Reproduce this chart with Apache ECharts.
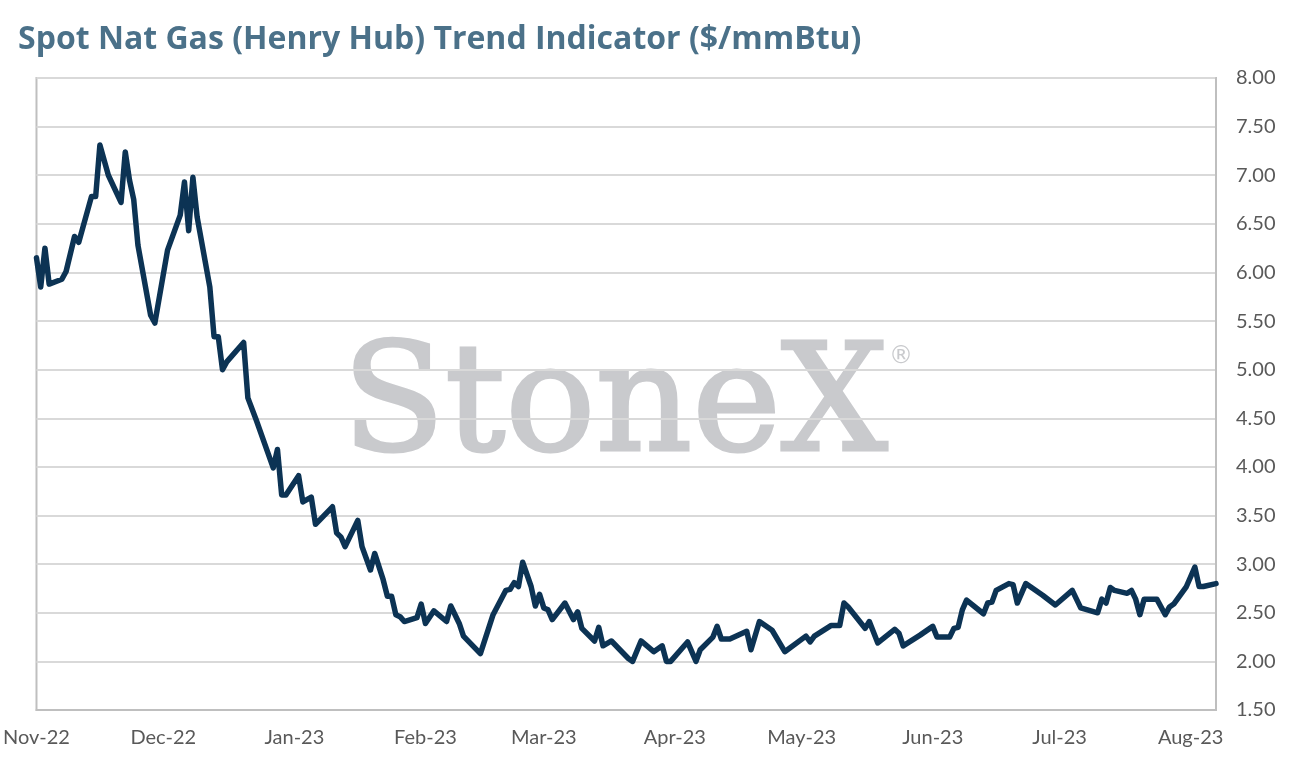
<!DOCTYPE html>
<html>
<head>
<meta charset="utf-8">
<title>Spot Nat Gas (Henry Hub) Trend Indicator</title>
<script src="https://cdn.jsdelivr.net/npm/echarts@6/dist/echarts.min.js"></script>
<style>
  html, body { margin: 0; padding: 0; background: #ffffff; }
  #chart { width: 1294px; height: 771px; }
</style>
</head>
<body>
<div id="chart"></div>
<script>
// values (line vertices)
var dates = [
    "2022-11-01", "2022-11-02", "2022-11-03", "2022-11-04", "2022-11-07", "2022-11-08", "2022-11-10", "2022-11-11",
    "2022-11-14", "2022-11-15", "2022-11-16", "2022-11-18", "2022-11-21", "2022-11-22", "2022-11-23", "2022-11-24",
    "2022-11-25", "2022-11-28", "2022-11-29", "2022-12-02", "2022-12-05", "2022-12-06", "2022-12-07", "2022-12-08",
    "2022-12-09", "2022-12-12", "2022-12-13", "2022-12-14", "2022-12-15", "2022-12-16", "2022-12-20", "2022-12-21",
    "2022-12-23", "2022-12-27", "2022-12-28", "2022-12-29", "2022-12-30", "2023-01-02", "2023-01-03", "2023-01-05",
    "2023-01-06", "2023-01-10", "2023-01-11", "2023-01-12", "2023-01-13", "2023-01-16", "2023-01-17", "2023-01-19",
    "2023-01-20", "2023-01-22", "2023-01-23", "2023-01-24", "2023-01-25", "2023-01-26", "2023-01-27", "2023-01-30",
    "2023-01-31", "2023-02-01", "2023-02-03", "2023-02-06", "2023-02-07", "2023-02-09", "2023-02-10", "2023-02-14",
    "2023-02-17", "2023-02-20", "2023-02-21", "2023-02-22", "2023-02-23", "2023-02-24", "2023-02-26", "2023-02-27",
    "2023-02-28", "2023-03-01", "2023-03-02", "2023-03-03", "2023-03-06", "2023-03-08", "2023-03-09", "2023-03-10",
    "2023-03-13", "2023-03-14", "2023-03-15", "2023-03-17", "2023-03-19", "2023-03-21", "2023-03-22", "2023-03-24",
    "2023-03-27", "2023-03-29", "2023-03-30", "2023-03-31", "2023-04-04", "2023-04-06", "2023-04-07", "2023-04-10",
    "2023-04-11", "2023-04-12", "2023-04-14", "2023-04-18", "2023-04-19", "2023-04-21", "2023-04-24", "2023-04-27",
    "2023-05-02", "2023-05-03", "2023-05-04", "2023-05-08", "2023-05-10", "2023-05-11", "2023-05-12", "2023-05-16",
    "2023-05-17", "2023-05-19", "2023-05-23", "2023-05-24", "2023-05-25", "2023-05-29", "2023-06-01", "2023-06-02",
    "2023-06-05", "2023-06-06", "2023-06-07", "2023-06-08", "2023-06-09", "2023-06-13", "2023-06-14", "2023-06-15",
    "2023-06-16", "2023-06-19", "2023-06-20", "2023-06-21", "2023-06-23", "2023-06-27", "2023-06-30", "2023-07-04",
    "2023-07-06", "2023-07-10", "2023-07-11", "2023-07-12", "2023-07-13", "2023-07-14", "2023-07-17", "2023-07-18",
    "2023-07-19", "2023-07-20", "2023-07-21", "2023-07-24", "2023-07-26", "2023-07-27", "2023-07-28", "2023-07-31",
    "2023-08-02", "2023-08-03", "2023-08-04", "2023-08-07"
];
var prices = [
    6.15, 5.85, 6.25, 5.88, 5.93, 6.01, 6.37, 6.31,
    6.78, 6.78, 7.31, 7.00, 6.72, 7.24, 6.95, 6.75,
    6.28, 5.56, 5.48, 6.23, 6.59, 6.93, 6.43, 6.98,
    6.57, 5.85, 5.34, 5.34, 5.00, 5.08, 5.28, 4.71,
    4.48, 3.99, 4.18, 3.71, 3.71, 3.91, 3.64, 3.69,
    3.41, 3.59, 3.32, 3.28, 3.18, 3.45, 3.18, 2.94,
    3.11, 2.84, 2.67, 2.67, 2.48, 2.46, 2.41, 2.45,
    2.59, 2.39, 2.52, 2.41, 2.57, 2.39, 2.26, 2.08,
    2.48, 2.73, 2.74, 2.81, 2.77, 3.02, 2.77, 2.57,
    2.69, 2.55, 2.53, 2.43, 2.60, 2.43, 2.51, 2.34,
    2.21, 2.35, 2.16, 2.21, 2.12, 2.03, 2.00, 2.21,
    2.10, 2.16, 2.00, 2.00, 2.20, 2.00, 2.12, 2.25,
    2.36, 2.23, 2.23, 2.31, 2.12, 2.41, 2.32, 2.10,
    2.26, 2.20, 2.26, 2.37, 2.37, 2.60, 2.56, 2.34,
    2.41, 2.19, 2.33, 2.29, 2.16, 2.27, 2.36, 2.25,
    2.25, 2.34, 2.35, 2.53, 2.63, 2.49, 2.60, 2.61,
    2.73, 2.80, 2.79, 2.60, 2.80, 2.68, 2.58, 2.73,
    2.55, 2.50, 2.64, 2.60, 2.76, 2.73, 2.70, 2.73,
    2.64, 2.48, 2.64, 2.64, 2.48, 2.56, 2.59, 2.77,
    2.97, 2.77, 2.77, 2.80
];
var monthNames = ["Jan", "Feb", "Mar", "Apr", "May", "Jun", "Jul", "Aug", "Sep", "Oct", "Nov", "Dec"];
var yTicks = { min: 1.5, max: 8, step: 0.5 };

var seriesData = dates.map(function (d, i) {
    return [d, prices[i]];
});

var chart = echarts.init(document.getElementById("chart"), null, { renderer: "canvas" });
chart.setOption({
    animation: false,
    backgroundColor: "#ffffff",
    title: {
        text: "Spot Nat Gas (Henry Hub) Trend Indicator ($/mmBtu)",
        left: 18,
        top: 24,
        padding: 0,
        textStyle: {
            color: "#4b7189",
            fontFamily: "Open Sans",
            fontWeight: "bold",
            fontSize: 32
        }
    },
    grid: {
        left: 36,
        right: 78,
        top: 78,
        bottom: 61,
        show: true,
        borderColor: "#bfbfbf",
        borderWidth: 2,
        containLabel: false
    },
    // StoneX watermark sits under the grid lines
    graphic: [{
        type: "text",
        z: -10,
        silent: true,
        style: {
            text: "StoneX",
            x: 615,
            y: 411,
            align: "center",
            verticalAlign: "middle",
            fill: "#c9cacd",
            stroke: "#c9cacd",
            lineWidth: 3,
            font: "150px 'DejaVu Serif'"
        }
    }, {
        type: "text",
        z: -10,
        silent: true,
        style: {
            text: "\u00ae",
            x: 901,
            y: 357,
            align: "center",
            verticalAlign: "middle",
            fill: "#c9cacd",
            font: "24px 'DejaVu Sans'"
        }
    }],
    xAxis: {
        type: "time",
        min: new Date(2022, 10, 1).getTime(),
        max: new Date(2023, 7, 7).getTime(),
        splitNumber: 10,
        axisLine: { show: true, lineStyle: { color: "#bfbfbf", width: 2 } },
        axisTick: { show: false },
        splitLine: { show: false },
        axisLabel: {
            margin: 18,
            color: "#595959",
            fontFamily: "Lato",
            fontSize: 20,
            hideOverlap: false,
            formatter: function (val) {
                var d = new Date(val);
                return monthNames[d.getMonth()] + "-" + String(d.getFullYear()).slice(2);
            }
        }
    },
    yAxis: {
        type: "value",
        position: "right",
        min: yTicks.min,
        max: yTicks.max,
        interval: yTicks.step,
        axisLine: { show: true, lineStyle: { color: "#bfbfbf", width: 2 } },
        axisTick: { show: false },
        splitLine: { show: true, lineStyle: { color: "#d9d9d9", width: 2 } },
        axisLabel: {
            margin: 20,
            color: "#595959",
            fontFamily: "Lato",
            fontSize: 20,
            formatter: function (v) { return v.toFixed(2); }
        }
    },
    series: [{
        type: "line",
        data: seriesData,
        showSymbol: false,
        symbol: "none",
        lineStyle: {
            color: "#0c3354",
            width: 5.5,
            join: "round",
            cap: "round"
        }
    }]
});
</script>
</body>
</html>
